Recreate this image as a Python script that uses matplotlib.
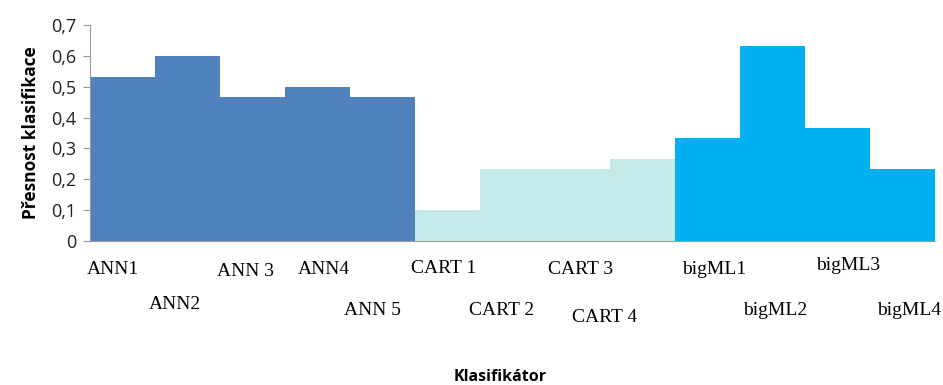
import matplotlib.pyplot as plt
import numpy as np

klasifikatory = ["ANN1", "ANN2", "ANN 3", "ANN4", "ANN 5",
                 "CART 1", "CART 2", "CART 3", "CART 4",
                 "bigML1", "bigML2", "bigML3", "bigML4"]
presnost = [0.533, 0.6, 0.467, 0.5, 0.467,
            0.1, 0.233, 0.233, 0.267,
            0.333, 0.633, 0.367, 0.233]
skupina = ["ANN"] * 5 + ["CART"] * 4 + ["bigML"] * 4

barvy = {"ANN": "#4f81bd", "CART": "#c5e9e9", "bigML": "#00b0f0"}

# rucni rozmisteni popisku pod osou (posun v sirkach sloupce, vyska v ose)
popisek_dx = [-0.15, -0.2, -0.1, 0.1, -0.16, -0.06, -0.16, 0.05, -0.59, 0.1, 0.04, 0.16, 0.1]
popisek_y = [-0.134, -0.296, -0.14, -0.134, -0.32, -0.125, -0.32, -0.134, -0.356, -0.134, -0.32, -0.115, -0.32]

fig = plt.figure(figsize=(9.43, 3.85), dpi=100)
ax = fig.add_axes([0.0954, 0.374, 0.896, 0.561])

x = np.arange(len(presnost))
ax.bar(x, presnost, width=1.0, color=[barvy[s] for s in skupina],
       edgecolor="none")

ax.set_xlim(-0.5, len(presnost) - 0.5)
ax.set_ylim(0, 0.7)
ax.set_yticks(np.arange(0, 0.71, 0.1))
ax.set_yticklabels(["0"] + [f"0,{i}" for i in range(1, 8)],
                   fontsize=13, family="Open Sans", color="#222222")
ax.set_xticks([])

for s in ["top", "right"]:
    ax.spines[s].set_visible(False)
ax.spines["left"].set_color("#9a9a9a")
ax.spines["bottom"].set_color("#9a9a9a")
ax.tick_params(axis="y", color="#9a9a9a", length=5, pad=5)

for i, nazev in enumerate(klasifikatory):
    ax.text(i + popisek_dx[i], popisek_y[i], nazev,
            transform=ax.get_xaxis_transform(), ha="center", va="center",
            fontsize=14, family="Liberation Serif")

ax.set_ylabel("Přesnost klasifikace", fontsize=12.5, fontweight="bold",
              family="Open Sans", labelpad=8)
fig.text(0.53, 0.022, "Klasifikátor", ha="center", va="center",
         fontsize=11.5, fontweight="bold", family="Open Sans")

fig.savefig("out.png", dpi=100)
